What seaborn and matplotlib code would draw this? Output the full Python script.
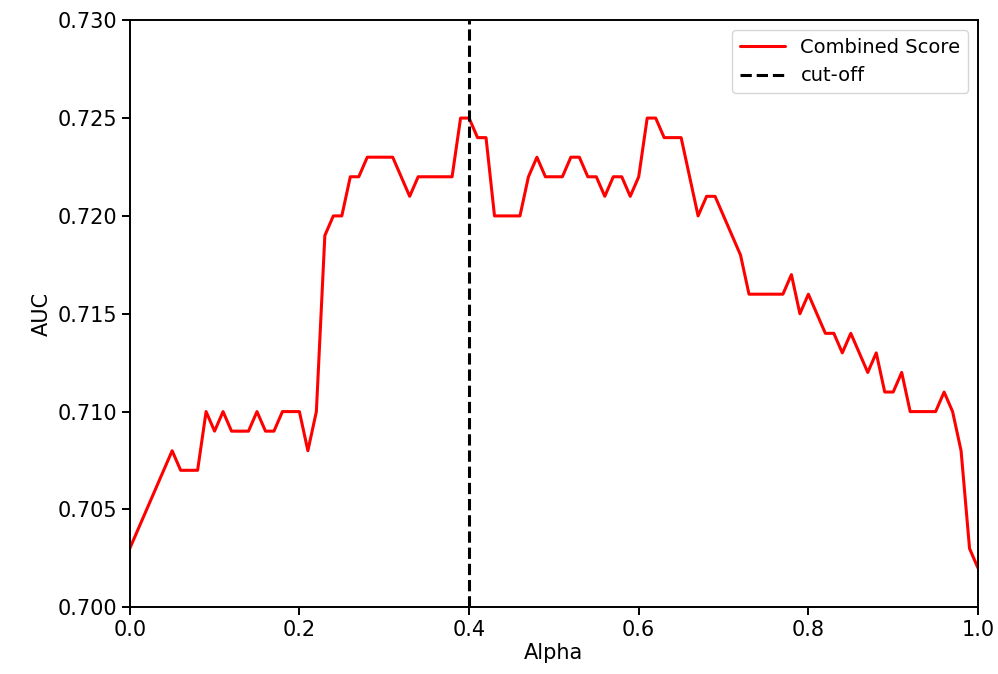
import numpy as np
import pandas as pd
import seaborn as sns
import matplotlib.pyplot as plt

# alpha grid (step 0.01) and AUC of the combined score
alpha = np.linspace(0, 1, 101)
auc = [
    0.703, 0.704, 0.705, 0.706, 0.707, 0.708, 0.707, 0.707, 0.707, 0.710,
    0.709, 0.710, 0.709, 0.709, 0.709, 0.710, 0.709, 0.709, 0.710, 0.710,
    0.710, 0.708, 0.710, 0.719, 0.720, 0.720, 0.722, 0.722, 0.723, 0.723,
    0.723, 0.723, 0.722, 0.721, 0.722, 0.722, 0.722, 0.722, 0.722, 0.725,
    0.725, 0.724, 0.724, 0.720, 0.720, 0.720, 0.720, 0.722, 0.723, 0.722,
    0.722, 0.722, 0.723, 0.723, 0.722, 0.722, 0.721, 0.722, 0.722, 0.721,
    0.722, 0.725, 0.725, 0.724, 0.724, 0.724, 0.722, 0.720, 0.721, 0.721,
    0.720, 0.719, 0.718, 0.716, 0.716, 0.716, 0.716, 0.716, 0.717, 0.715,
    0.716, 0.715, 0.714, 0.714, 0.713, 0.714, 0.713, 0.712, 0.713, 0.711,
    0.711, 0.712, 0.710, 0.710, 0.710, 0.710, 0.711, 0.710, 0.708, 0.703,
    0.702,
]
cutoff = 0.4

df = pd.DataFrame({"Alpha": alpha, "AUC": auc})

sns.set_theme(style="ticks")
plt.rcParams["font.family"] = ["DejaVu Sans"]
plt.rcParams["axes.linewidth"] = 1.4
plt.rcParams["xtick.major.width"] = 1.4
plt.rcParams["ytick.major.width"] = 1.4
plt.rcParams["xtick.major.size"] = 5.5
plt.rcParams["ytick.major.size"] = 5.5
plt.rcParams["axes.edgecolor"] = "black"
plt.rcParams["text.color"] = "black"
plt.rcParams["axes.labelcolor"] = "black"

fig, ax = plt.subplots(figsize=(9.98, 6.74), dpi=100)
fig.subplots_adjust(left=0.130, right=0.980, top=0.970, bottom=0.099)

sns.lineplot(data=df, x="Alpha", y="AUC", color="red", linewidth=2.2,
             label="Combined Score", ax=ax)
ax.axvline(cutoff, color="black", linestyle="--", linewidth=2.2, label="cut-off")

ax.set_xlim(0, 1)
ax.set_ylim(0.700, 0.730)
ax.set_yticks(np.arange(0.700, 0.7301, 0.005))
ax.set_yticklabels([f"{v:.3f}" for v in np.arange(0.700, 0.7301, 0.005)])
ax.tick_params(labelsize=15, colors="black")
ax.set_xlabel("Alpha", fontsize=15, labelpad=2)
ax.set_ylabel("AUC", fontsize=15)

leg = ax.legend(loc="upper right", fontsize=14, frameon=True, handlelength=2.3)
leg.get_frame().set_edgecolor("#cccccc")

fig.savefig("out.png", dpi=100)
